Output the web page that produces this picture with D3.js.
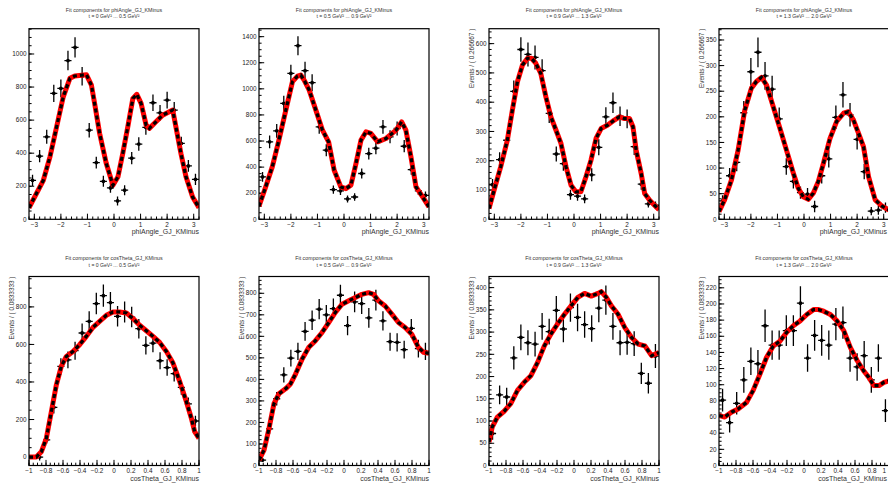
<!DOCTYPE html>
<html><head><meta charset="utf-8">
<script src="https://cdn.jsdelivr.net/npm/d3@7"></script>
<style>body{margin:0;background:#fff}svg{display:block}text{font-family:"Liberation Sans",Arial,Helvetica,sans-serif}</style>
</head><body><svg id="c" width="888" height="483"></svg>
<script>
// ---------- data ----------
const phiBins = [-3.067,-2.8,-2.533,-2.267,-2.0,-1.733,-1.467,-1.2,-0.933,-0.667,-0.4,-0.133,0.133,0.4,0.667,0.933,1.2,1.467,1.733,2.0,2.267,2.533,2.8,3.067];
const cosBins = [-0.958,-0.875,-0.792,-0.708,-0.625,-0.542,-0.458,-0.375,-0.292,-0.208,-0.125,-0.042,0.042,0.125,0.208,0.292,0.375,0.458,0.542,0.625,0.708,0.792,0.875,0.958];
const phiHalfBin = 0.1333, cosHalfBin = 0.04167;
const tLabels = ["t = 0 GeV\u00B2 ... 0.5 GeV\u00B2","t = 0.5 GeV\u00B2 ... 0.9 GeV\u00B2","t = 0.9 GeV\u00B2 ... 1.3 GeV\u00B2","t = 1.3 GeV\u00B2 ... 2.0 GeV\u00B2"];
const phiTitle = "Fit components for phiAngle_GJ_KMinus";
const cosTitle = "Fit components for cosTheta_GJ_KMinus";
const phiXLabel = "phiAngle_GJ_KMinus", cosXLabel = "cosTheta_GJ_KMinus";
const phiYLabel = "Events / ( 0.266667 )", cosYLabel = "Events / ( 0.0833333 )";
const phiTicks = [-3,-2,-1,0,1,2,3];
const cosTicks = [-1,-0.8,-0.6,-0.4,-0.2,0,0.2,0.4,0.6,0.8,1];

// phi, t bin 1..4
const phiVal1 = [236,382,499,762,792,960,1040,866,539,343,230,190,111,176,370,455,556,705,644,721,660,459,323,242];
const phiErr1 = [34,37,42,52,53,59,61,56,44,36,33,30,27,30,37,41,45,50,48,51,49,41,36,34];
const phiFitX1 = [-3.2,-2.66,-2.41,-2.16,-1.91,-1.66,-1.48,-1.04,-0.85,-0.73,-0.54,-0.29,-0.04,0.15,0.33,0.52,0.71,0.86,1.02,1.21,1.33,1.58,1.83,2.21,2.33,2.52,2.71,2.96,3.2];
const phiFitY1 = [70,236,378,560,741,853,867,875,812,701,519,337,206,257,398,560,731,756,701,570,550,590,630,661,560,398,257,135,70];

const phiVal2 = [325,594,678,888,1118,1331,1139,1047,709,530,228,218,156,171,351,504,545,709,632,696,560,381,218,184];
const phiErr2 = [38,49,52,60,67,73,68,65,53,46,32,31,27,28,38,45,47,53,50,53,47,39,31,29];
const phiFitX2 = [-3.2,-2.95,-2.7,-2.45,-2.19,-1.94,-1.75,-1.63,-1.5,-1.31,-1.06,-0.81,-0.58,-0.37,-0.12,0.07,0.26,0.45,0.64,0.83,1.01,1.27,1.58,1.96,2.17,2.33,2.52,2.71,2.96,3.2];
const phiFitY2 = [100,248,402,607,837,1055,1098,1106,1067,990,837,683,594,376,248,235,261,427,607,671,658,594,619,683,747,683,479,248,171,95];

const phiVal3 = [118,204,270,437,580,563,553,508,362,223,190,84,79,70,152,246,350,398,352,343,248,120,53,48];
const phiErr3 = [20,25,29,37,42,41,41,39,33,26,24,17,16,15,22,27,33,35,33,32,28,19,13,13];
const phiFitX3 = [-3.2,-3.01,-2.76,-2.51,-2.32,-2.13,-1.94,-1.75,-1.6,-1.44,-1.25,-1.06,-0.87,-0.68,-0.49,-0.3,-0.11,0.07,0.26,0.45,0.64,0.83,1.02,1.27,1.52,1.71,1.9,2.09,2.22,2.34,2.53,2.66,2.85,3.03,3.2];
const phiFitY3 = [37,99,179,270,373,470,527,550,550,533,498,419,350,305,259,179,116,94,94,145,202,276,310,322,339,350,344,344,316,236,156,88,65,48,33];

const phiVal4 = [36,85,111,208,288,326,280,254,196,103,74,52,49,25,85,118,199,243,204,156,93,16,18,23];
const phiErr4 = [11,15,17,23,27,29,27,26,22,16,14,12,12,11,15,17,23,25,23,20,15,8,9,10];
const phiFitX4 = [-3.2,-2.99,-2.73,-2.48,-2.23,-1.98,-1.79,-1.6,-1.41,-1.16,-0.91,-0.66,-0.4,-0.22,-0.03,0.16,0.35,0.54,0.73,0.98,1.23,1.49,1.67,1.86,2.05,2.24,2.43,2.68,2.93,3.2];
const phiFitY4 = [15,38,77,135,213,256,269,277,262,220,178,135,90,61,44,39,51,74,109,158,191,207,210,194,168,142,83,38,26,18];

// cosTheta, t bin 1..4
const cosVal1 = [0,0,91,265,483,518,567,661,723,818,860,823,750,773,746,684,595,607,513,477,445,371,283,192];
const cosErr1 = [10,18,19,33,44,45,48,51,54,57,59,57,55,56,55,52,49,49,45,44,42,39,34,28];
const cosFitX1 = [-1,-0.914,-0.855,-0.796,-0.737,-0.678,-0.62,-0.561,-0.482,-0.404,-0.325,-0.247,-0.169,-0.09,-0.012,0.067,0.145,0.224,0.302,0.38,0.459,0.537,0.616,0.694,0.773,0.851,0.91,0.949,1];
const cosFitY1 = [0,0,28,100,242,385,483,536,563,599,643,691,723,755,773,773,768,738,702,673,643,611,563,501,403,296,207,135,100];

const cosVal2 = [25,170,310,421,499,530,623,675,726,700,729,791,650,760,752,686,768,672,575,572,538,637,543,530];
const cosErr2 = [9,23,31,36,39,40,44,45,47,46,47,49,45,48,48,46,48,45,42,42,41,44,41,40];
const cosFitX2 = [-1,-0.941,-0.883,-0.824,-0.766,-0.688,-0.629,-0.57,-0.492,-0.414,-0.336,-0.258,-0.18,-0.102,-0.023,0.055,0.133,0.211,0.289,0.348,0.406,0.484,0.563,0.641,0.719,0.797,0.836,0.875,0.934,1];
const cosFitY2 = [25,71,171,287,333,356,379,425,495,549,580,618,664,711,749,765,780,795,803,795,765,741,703,664,641,610,580,549,526,521];

const cosVal3 = [72,159,154,242,288,276,273,313,301,349,307,355,333,317,308,354,372,313,276,277,274,207,185,246];
const cosErr3 = [14,21,21,26,29,28,28,30,29,32,30,32,31,30,30,32,33,30,28,28,28,24,23,27];
const cosFitX3 = [-1,-0.961,-0.901,-0.822,-0.744,-0.665,-0.586,-0.507,-0.428,-0.349,-0.27,-0.191,-0.112,-0.034,0.045,0.124,0.203,0.282,0.321,0.381,0.44,0.519,0.598,0.677,0.755,0.834,0.913,1];
const cosFitY3 = [53,87,109,122,139,169,187,202,232,269,296,319,340,359,378,387,381,387,391,378,359,340,310,288,273,269,247,254];

const cosVal4 = [81,53,77,106,129,126,173,149,149,167,167,201,133,161,155,149,175,177,133,122,136,106,133,68];
const cosErr4 = [14,12,14,16,17,17,20,18,18,19,19,21,17,19,19,18,20,20,17,17,18,16,17,14];
const cosFitX4 = [-1,-0.933,-0.854,-0.775,-0.677,-0.598,-0.519,-0.44,-0.361,-0.282,-0.203,-0.125,-0.046,0.033,0.112,0.172,0.231,0.31,0.389,0.468,0.546,0.625,0.704,0.763,0.822,0.882,0.941,1];
const cosFitY4 = [62,60,66,70,78,93,113,134,148,154,165,173,179,187,193,193,191,187,179,167,146,130,117,109,99,99,103,105];

// axis ranges and tick steps per panel
const phiYMax = [1153,1461,651,372];
const cosYMin = [-45,0,0,0];
const cosYMax = [962,878,425,234];
const phiYStep = [[200,50],[200,50],[100,20],[50,10]];
const cosYStep = [[200,50],[100,20],[50,10],[20,5]];

// ---------- layout ----------
const W = 888;
const svg = d3.select("#c");
const colLeft = [29,259,489,719], frameW = 170;
const rows = [{top:28.7,bottom:219.3,t1:12.4,t2:17.9,xlabY:233.5},{top:276.5,bottom:465.5,t1:260.2,t2:266.6,xlabY:480.6}];

const panels = [];
const phiV=[phiVal1,phiVal2,phiVal3,phiVal4], phiE=[phiErr1,phiErr2,phiErr3,phiErr4];
const phiFX=[phiFitX1,phiFitX2,phiFitX3,phiFitX4], phiFY=[phiFitY1,phiFitY2,phiFitY3,phiFitY4];
const cosV=[cosVal1,cosVal2,cosVal3,cosVal4], cosE=[cosErr1,cosErr2,cosErr3,cosErr4];
const cosFX=[cosFitX1,cosFitX2,cosFitX3,cosFitX4], cosFY=[cosFitY1,cosFitY2,cosFitY3,cosFitY4];
for(let i=0;i<4;i++){
  panels.push({row:0,col:i,xd:[-3.2,3.2],yd:[0,phiYMax[i]],bins:phiBins,hb:phiHalfBin,v:phiV[i],e:phiE[i],fx:phiFX[i],fy:phiFY[i],
    xt:phiTicks,xminor:0.2,ys:phiYStep[i],title:phiTitle,sub:tLabels[i],xl:phiXLabel,yl:(i>=2?phiYLabel:null),fmt:d=>String(d)});
}
for(let i=0;i<4;i++){
  panels.push({row:1,col:i,xd:[-1,1],yd:[cosYMin[i],cosYMax[i]],bins:cosBins,hb:cosHalfBin,v:cosV[i],e:cosE[i],fx:cosFX[i],fy:cosFY[i],
    xt:cosTicks,xminor:0.05,ys:cosYStep[i],title:cosTitle,sub:tLabels[i],xl:cosXLabel,yl:cosYLabel,fmt:d=>d===0?"0":(d===1||d===-1?String(d):d3.format(".1f")(d))});
}
const minus = s => s.replace("-", "\u2212");

panels.forEach((p,k)=>{
  const r = rows[p.row];
  const x0 = colLeft[p.col], x1 = x0+frameW;
  const x = d3.scaleLinear().domain(p.xd).range([x0,x1]);
  const y = d3.scaleLinear().domain(p.yd).range([r.bottom,r.top]);
  const g = svg.append("g");
  const cx = (x0+x1)/2;
  // titles
  g.append("text").attr("x",cx).attr("y",r.t1).attr("text-anchor","middle").attr("font-size",5.3).attr("fill","#333").text(p.title);
  g.append("text").attr("x",cx).attr("y",r.t2).attr("text-anchor","middle").attr("font-size",5.1).attr("fill","#333").text(p.sub);
  // clip
  const cid = "clip"+k;
  g.append("clipPath").attr("id",cid).append("rect").attr("x",x0).attr("y",r.top).attr("width",frameW).attr("height",r.bottom-r.top);
  // x ticks
  const xMinor = d3.range(Math.ceil(p.xd[0]/p.xminor-1e-6), Math.floor(p.xd[1]/p.xminor+1e-6)+1).map(i=>i*p.xminor);
  const H = r.bottom-r.top;
  g.selectAll(null).data(xMinor).enter().append("line")
    .attr("x1",d=>x(d)).attr("x2",d=>x(d)).attr("y1",r.bottom).attr("y2",r.bottom-2.8).attr("stroke","#000").attr("stroke-width",1);
  g.selectAll(null).data(p.xt).enter().append("line")
    .attr("x1",d=>x(d)).attr("x2",d=>x(d)).attr("y1",r.bottom).attr("y2",r.bottom-5.6).attr("stroke","#000").attr("stroke-width",1);
  g.selectAll(null).data(p.xt).enter().append("text")
    .attr("x",d=>Math.min(x(d), W-2)).attr("y",r.bottom+7.6)
    .attr("text-anchor",d=>x(d)>W-3?"end":"middle").attr("font-size",6.4).attr("fill","#222")
    .text(d=>minus(p.fmt(d)));
  // y ticks
  const ymaj = p.ys[0], ymin = p.ys[1];
  const yMinorT = d3.range(Math.ceil(p.yd[0]/ymin-1e-6), Math.floor(p.yd[1]/ymin+1e-6)+1).map(i=>i*ymin);
  const yMajorT = d3.range(Math.ceil(p.yd[0]/ymaj-1e-6), Math.floor(p.yd[1]/ymaj+1e-6)+1).map(i=>i*ymaj);
  g.selectAll(null).data(yMinorT).enter().append("line")
    .attr("x1",x0).attr("x2",x0+2.6).attr("y1",d=>y(d)).attr("y2",d=>y(d)).attr("stroke","#000").attr("stroke-width",1);
  g.selectAll(null).data(yMajorT).enter().append("line")
    .attr("x1",x0).attr("x2",x0+5.2).attr("y1",d=>y(d)).attr("y2",d=>y(d)).attr("stroke","#000").attr("stroke-width",1);
  g.selectAll(null).data(yMajorT).enter().append("text")
    .attr("x",x0-2.5).attr("y",d=>y(d)+2.2).attr("text-anchor","end").attr("font-size",6.4).attr("fill","#222").text(d=>String(d));
  // axis titles
  g.append("text").attr("x",Math.min(x1, W-1)).attr("y",r.xlabY).attr("text-anchor","end").attr("font-size",7).attr("fill","#333").text(p.xl);
  if(p.yl){
    g.append("text").attr("transform",`translate(${x0-15.2},${r.top}) rotate(-90)`).attr("text-anchor","end")
      .attr("font-size",6.4).attr("fill","#333").text(p.yl);
  }
  // data points
  const pts = p.bins.map((b,i)=>({x:b,v:p.v[i],e:p.e[i]}));
  const dg = g.append("g").attr("clip-path",`url(#${cid})`);
  dg.selectAll(null).data(pts).enter().append("line")
    .attr("x1",d=>x(d.x-p.hb)).attr("x2",d=>x(d.x+p.hb)).attr("y1",d=>y(d.v)).attr("y2",d=>y(d.v)).attr("stroke","#000").attr("stroke-width",1.3);
  dg.selectAll(null).data(pts).enter().append("line")
    .attr("x1",d=>x(d.x)).attr("x2",d=>x(d.x)).attr("y1",d=>y(d.v-d.e)).attr("y2",d=>y(d.v+d.e)).attr("stroke","#000").attr("stroke-width",1.3);
  dg.selectAll(null).data(pts).enter().append("circle")
    .attr("cx",d=>x(d.x)).attr("cy",d=>y(d.v)).attr("r",1.9).attr("fill","#000");
  // fit curve
  const fit = p.fx.map((xx,i)=>[xx,p.fy[i]]);
  const line = d3.line().x(d=>x(d[0])).y(d=>y(d[1])).curve(d3.curveLinear);
  dg.append("path").attr("d",line(fit)).attr("fill","none").attr("stroke","#ff0000").attr("stroke-width",5).attr("stroke-linejoin","round");
  dg.append("path").attr("d",line(fit)).attr("fill","none").attr("stroke","#000").attr("stroke-width",3.2).attr("stroke-dasharray","4,3");
  // frame
  g.append("rect").attr("x",x0).attr("y",r.top).attr("width",frameW).attr("height",H).attr("fill","none").attr("stroke","#000").attr("stroke-width",1.2);
});
</script></body></html>
